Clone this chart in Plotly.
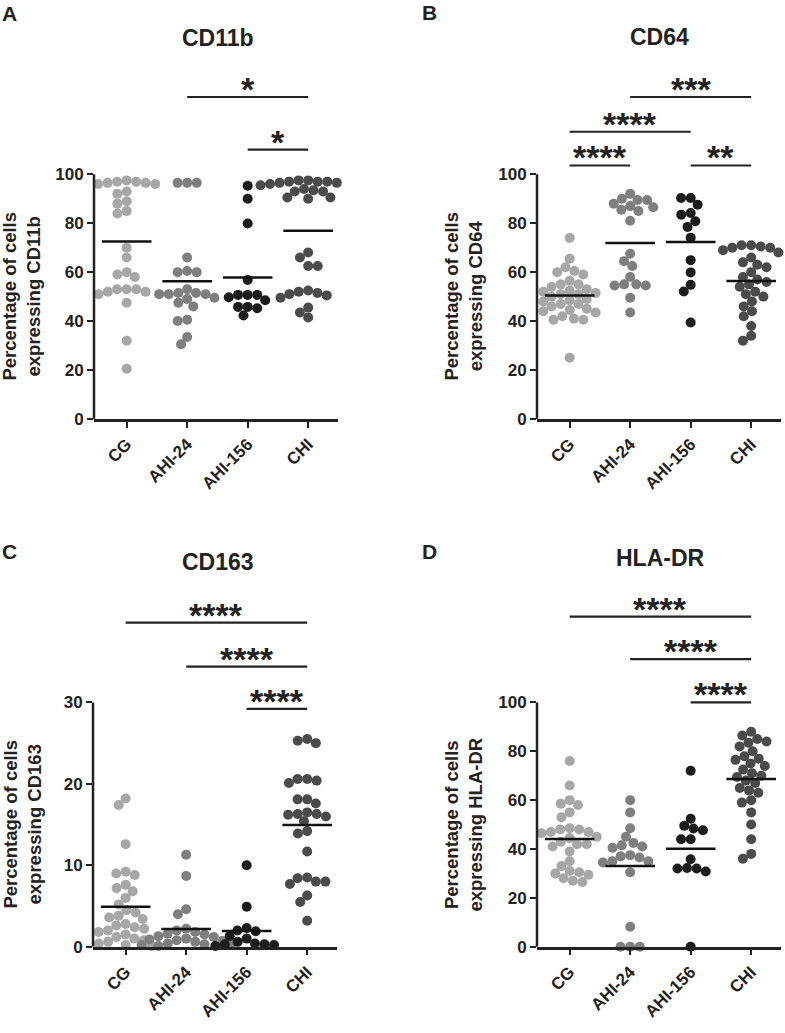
import numpy as np
import plotly.graph_objects as go

# ---------------- data ----------------
groups = ["CG", "AHI-24", "AHI-156", "CHI"]
colors = ["#a7a7a7", "#7f7f7f", "#1c1c1c", "#4b4b4b"]

cd11b_cg = [97.5, 97, 97, 96.5, 96.5, 96, 96, 95.5, 93, 92, 89, 88, 85, 84, 70, 66, 60, 59, 58,
            53, 53, 53, 52, 52, 51, 47.5, 32, 20.5]
cd11b_ahi24 = [96.5, 96.5, 96.5, 66, 60.5, 60, 60, 53, 51.5, 51.5, 51, 51, 51, 49.5, 49, 47.5, 46,
               40.5, 40, 33.5, 30.5]
cd11b_ahi156 = [95.3, 90, 79.9, 56.8, 50.7, 50.7, 50.7, 49.7, 48.5, 45.2, 45.8, 45.8, 42.3]
cd11b_chi = [97.5, 97.5, 97, 97, 97, 96.5, 96.5, 96, 96, 95.5, 94, 93.5, 93, 93, 90.5, 90.5, 90,
             68, 66, 62.5, 62.5, 52.5, 52, 51.5, 51, 50.5, 49.5, 45.5, 43.5, 41.5]

cd64_cg = [74, 65.5, 62, 60.5, 60, 59, 56.5, 55, 55, 54, 53, 52.5, 52, 51.5, 51, 51, 50.5, 50, 49,
           48.5, 48, 47, 47, 46, 45, 44.5, 44, 43.5, 42, 41, 40.5, 40.5, 25]
cd64_ahi24 = [92, 90, 89.5, 89.5, 88, 87, 86.5, 85.5, 85, 81, 67.5, 64.5, 62.5, 58, 55, 55, 54.5,
              54.5, 49.5, 43.5]
cd64_ahi156 = [90.3, 90.3, 87.6, 84.2, 83.5, 80.8, 78.5, 74.1, 64.9, 59.9, 54.8, 52.1, 39.4]
cd64_chi = [71, 71, 70.5, 70, 70, 69, 68, 66, 64, 63, 62, 60, 58, 57, 56, 55, 54, 52, 51, 50, 48,
            46, 44, 42, 38, 34, 32]

cd163_cg = [18.2, 17.4, 12.6, 9.2, 9.0, 8.8, 7.6, 7.2, 6.8, 6.0, 5.2, 4.5, 4.2, 3.8, 3.6, 3.4, 2.8,
            2.6, 2.4, 2.2, 2.0, 1.8, 1.5, 1.2, 1.0, 0.8, 0.6, 0.4, 0.2, 0.1]
cd163_ahi24 = [11.3, 8.7, 4.6, 4.0, 2.2, 2.0, 1.8, 1.6, 1.5, 1.3, 1.2, 1.0, 0.9, 0.8, 0.7, 0.6, 0.5,
               0.4, 0.3, 0.2, 0.1]
cd163_ahi156 = [10.0, 4.9, 2.3, 2.0, 1.9, 1.3, 1.0, 0.6, 0.4, 0.3, 0.3, 0.2, 0.1]
cd163_chi = [25.5, 25.3, 25.0, 20.6, 20.6, 20.4, 20.1, 18.1, 18.1, 17.6, 16.5, 16.3, 16.3, 16.2, 16.0,
             15.4, 14.2, 13.9, 11.7, 8.5, 8.4, 8.0, 8.0, 7.7, 6.3, 5.5, 3.2]

hladr_cg = [76, 66, 60, 58.5, 58, 55, 53, 48.5, 48, 48, 47, 47, 46.5, 45, 44.5, 43, 42, 42, 41, 39,
            35, 33, 31, 30.5, 30, 29.5, 28, 27, 26.5]
hladr_ahi24 = [60, 55, 48.5, 45, 42.5, 41.5, 41, 40.5, 37.5, 37, 36.5, 35, 35, 34.5, 30.5, 8.2, 0, 0, 0]
hladr_ahi156 = [72, 52.4, 49.5, 48.4, 47.7, 44, 44, 35.8, 32.2, 32, 32, 30.8, 0]
hladr_chi = [88, 86.5, 85, 84, 83.5, 82, 80, 78, 77, 76.5, 75, 74, 72.5, 71, 70, 69.5, 68, 67, 65,
             64, 63, 60, 59, 55, 50, 44, 38, 36]

titles = ["CD11b", "CD64", "CD163", "HLA-DR"]
letters = ["A", "B", "C", "D"]
ytitles = ["Percentage of cells<br>expressing CD11b", "Percentage of cells<br>expressing CD64",
           "Percentage of cells<br>expressing CD163", "Percentage of cells<br>expressing HLA-DR"]
yticks = [[0, 20, 40, 60, 80, 100], [0, 20, 40, 60, 80, 100], [0, 10, 20, 30], [0, 20, 40, 60, 80, 100]]

# comparisons: (group i, group j, label)
comp_A = [(1, 3, "*"), (2, 3, "*")]
comp_B = [(0, 1, "****"), (2, 3, "**"), (0, 2, "****"), (1, 3, "***")]
comp_C = [(2, 3, "****"), (1, 3, "****"), (0, 3, "****")]
comp_D = [(2, 3, "****"), (1, 3, "****"), (0, 3, "****")]

panels_data = [
    [cd11b_cg, cd11b_ahi24, cd11b_ahi156, cd11b_chi],
    [cd64_cg, cd64_ahi24, cd64_ahi156, cd64_chi],
    [cd163_cg, cd163_ahi24, cd163_ahi156, cd163_chi],
    [hladr_cg, hladr_ahi24, hladr_ahi156, hladr_chi],
]
comps = [comp_A, comp_B, comp_C, comp_D]

# ---------------- layout geometry (pixels) ----------------
W, H = 785, 1033
PPX = 60.5
XL, XR = -0.54, 3.5
geom = [
    dict(ax=94, y0=423, yt=176, top=60, ytitle_x=22, title=(218, 38), letter=(0, 14), bars=[131.6, 110.1]),
    dict(ax=537, y0=423, yt=176, top=60, ytitle_x=464, title=(659, 37), letter=(420, 13),
         bars=[103.6, 103.6, 117.4, 131.6]),
    dict(ax=93, y0=956, yt=709.3, top=590, ytitle_x=23, title=(218, 567), letter=(0, 557),
         bars=[29.2, 34.4, 39.8]),
    dict(ax=537, y0=956, yt=709.3, top=590, ytitle_x=464, title=(660, 563), letter=(420, 557),
         bars=[100, 117.7, 135.1]),
]

INK = "#222222"
FONT = "Liberation Sans, Arial, Helvetica, sans-serif"


def swarm(vals, ppu_y, ppu_x=PPX, d=9.6):
    vals = np.asarray(vals, float)
    order = np.argsort(-vals, kind="stable")
    px, py = [], []
    offs = np.zeros(len(vals))
    for i in order:
        y = vals[i] * ppu_y
        ivs = []
        for xx, yy in zip(px, py):
            dy = abs(yy - y)
            if dy < d:
                w = np.sqrt(d * d - dy * dy)
                ivs.append((xx - w, xx + w))
        cands = [0.0] + [a for a, b in ivs] + [b for a, b in ivs]
        cands.sort(key=abs)
        for c in cands:
            if all(not (a + 1e-6 < c < b - 1e-6) for a, b in ivs):
                offs[i] = c
                break
        px.append(offs[i])
        py.append(y)
    return offs / ppu_x


fig = go.Figure()
layout = dict(width=W, height=H, margin=dict(l=0, r=0, t=0, b=0), showlegend=False,
              plot_bgcolor="white", paper_bgcolor="white",
              font=dict(family=FONT, color=INK, size=16, weight="bold"))
shapes, annotations = [], []

for k in range(4):
    g = geom[k]
    sfx = "" if k == 0 else str(k + 1)
    ytop_tick = yticks[k][-1]
    ppu_y = (g["y0"] - g["yt"]) / ytop_tick
    ymax = (g["y0"] - g["top"]) / ppu_y
    x0px = g["ax"]
    x1px = g["ax"] + (XR - XL) * PPX
    layout["xaxis" + sfx] = dict(domain=[x0px / W, x1px / W], range=[XL, XR], anchor="y" + sfx,
                                 tickvals=[0, 1, 2, 3], ticktext=groups, tickangle=-45,
                                 ticks="outside", ticklen=6, tickwidth=2, tickcolor=INK,
                                 showline=True, linewidth=2.5, linecolor=INK,
                                 showgrid=False, zeroline=False, fixedrange=True,
                                 tickfont=dict(size=17, weight="bold"))
    layout["yaxis" + sfx] = dict(domain=[1 - g["y0"] / H, 1 - g["top"] / H], range=[0, ymax],
                                 anchor="x" + sfx, tickvals=yticks[k], ticks="outside", ticklen=6,
                                 tickwidth=2, tickcolor=INK, showline=False, showgrid=False,
                                 zeroline=False, fixedrange=True,
                                 tickfont=dict(size=17, weight="bold"))
    xr, yr = "x" + sfx, "y" + sfx
    # y axis line from 0 to top tick
    shapes.append(dict(type="line", xref=xr + " domain", yref=yr, x0=0, x1=0, y0=0, y1=ytop_tick,
                       line=dict(color=INK, width=2.5)))
    # points
    for gi, vals in enumerate(panels_data[k]):
        offs = swarm(vals, ppu_y)
        fig.add_trace(go.Scatter(x=gi + offs, y=vals, mode="markers", xaxis=xr, yaxis=yr,
                                 marker=dict(size=10, color=colors[gi], line=dict(width=0)),
                                 cliponaxis=False, hoverinfo="y"))
    # mean lines
    for gi, vals in enumerate(panels_data[k]):
        m = float(np.mean(vals))
        fig.add_trace(go.Scatter(x=[gi - 0.41, gi + 0.41], y=[m, m], mode="lines", xaxis=xr,
                                 yaxis=yr, line=dict(color="#111111", width=2.5),
                                 cliponaxis=False, hoverinfo="skip"))
    # significance bars
    for (i, j, lab), lev in zip(comps[k], g["bars"]):
        shapes.append(dict(type="line", xref=xr, yref=yr, x0=i, x1=j, y0=lev, y1=lev,
                           line=dict(color=INK, width=2.2)))
        annotations.append(dict(xref=xr, yref=yr, x=(i + j) / 2, y=lev, text=lab, showarrow=False,
                                xanchor="center", yanchor="middle", yshift=8,
                                font=dict(size=34, family=FONT, color=INK, weight="bold")))
    # titles
    tx, ty = g["title"]
    annotations.append(dict(xref="paper", yref="paper", x=tx / W, y=1 - ty / H, text=titles[k],
                            showarrow=False, xanchor="center", yanchor="middle",
                            font=dict(size=23, family=FONT, color=INK, weight="bold")))
    lx, ly = g["letter"]
    annotations.append(dict(xref="paper", yref="paper", x=lx / W, y=1 - ly / H, text=letters[k],
                            showarrow=False, xanchor="left", yanchor="middle",
                            font=dict(size=21, family=FONT, color=INK, weight="bold")))
    # y axis title
    annotations.append(dict(xref="paper", yref="paper", x=g["ytitle_x"] / W,
                            y=1 - ((g["y0"] + g["yt"]) / 2) / H, text=ytitles[k], showarrow=False,
                            textangle=-90, xanchor="center", yanchor="middle",
                            font=dict(size=18.5, family=FONT, color=INK, weight="bold")))

layout["shapes"] = shapes
layout["annotations"] = annotations
fig.update_layout(**layout)
fig.write_html("out.html")
